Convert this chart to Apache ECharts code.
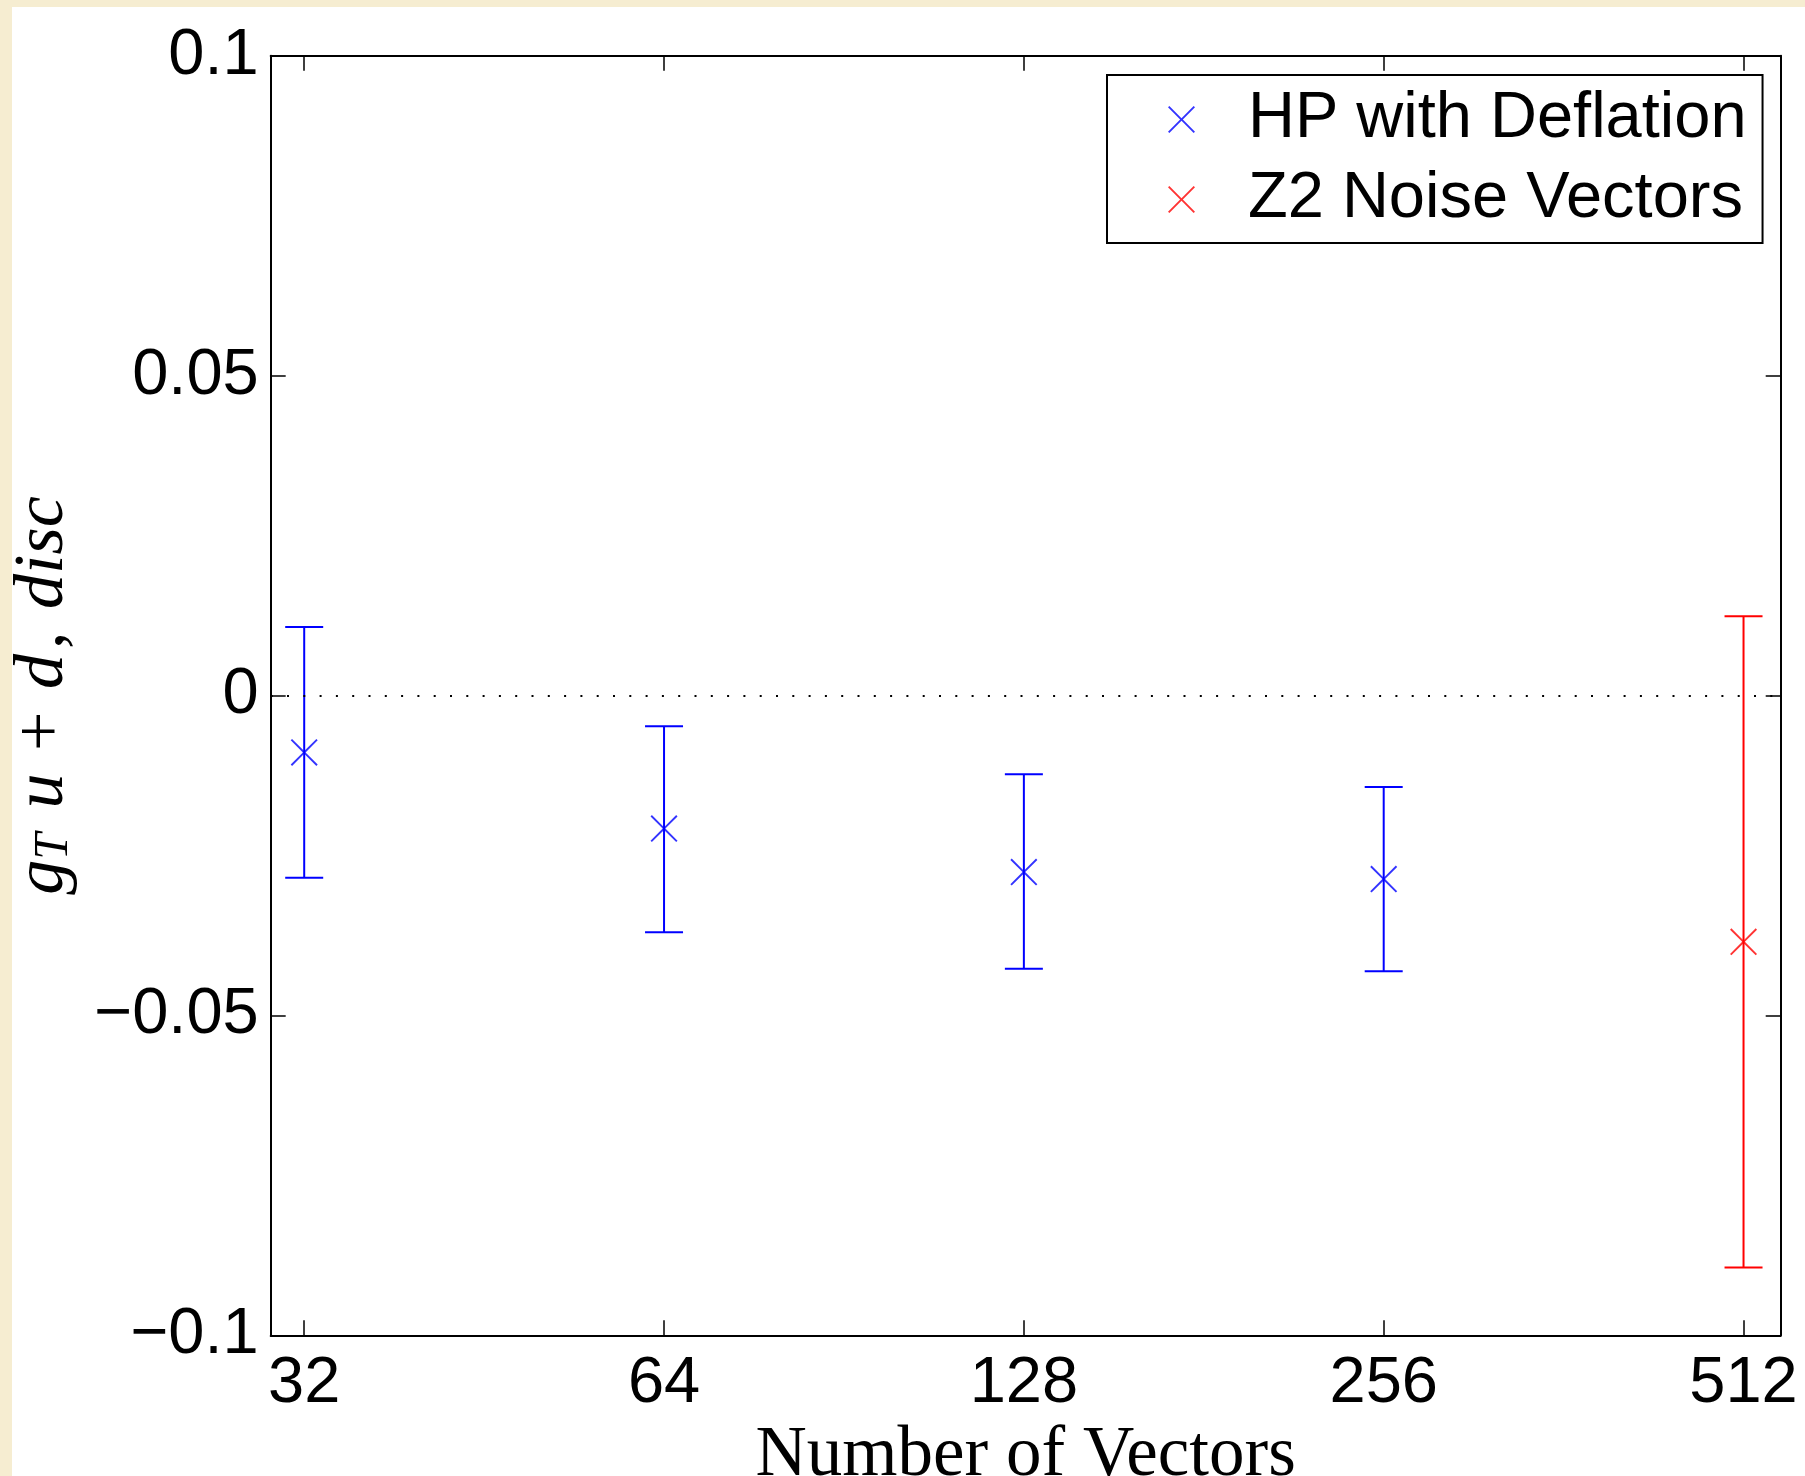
<!DOCTYPE html>
<html>
<head>
<meta charset="utf-8">
<script src="https://cdn.jsdelivr.net/npm/echarts@6/dist/echarts.min.js"></script>
<style>
  html, body { margin: 0; padding: 0; width: 1805px; height: 1476px; background: #f6edd1; overflow: hidden; }
  #chart { position: absolute; left: 12px; top: 7px; width: 1793px; height: 1469px; background: #ffffff; }
</style>
</head>
<body>
<div id="chart"></div>
<script>
// ---- data ----
const vectorCounts = [32, 64, 128, 256, 512];          // x tick labels
const yTicks = [-0.1, -0.05, 0, 0.05, 0.1];

const hpVectors = [32, 64, 128, 256];
const hpMean    = [-0.0089, -0.0208, -0.0276, -0.0287];
const hpLow     = [-0.0285, -0.0370, -0.0427, -0.0431];
const hpHigh    = [ 0.0107, -0.0048, -0.0123, -0.0143];

const z2Vectors = [512];
const z2Mean    = [-0.0385];
const z2Low     = [-0.0894];
const z2High    = [ 0.0124];

const xLimits = [30, 550];

// ---- build ----
const X_PATH = 'path://M0,5 L5,0 L50,45 L95,0 L100,5 L55,50 L100,95 L95,100 L50,55 L5,100 L0,95 L45,50 Z';
const BLUE = '#0000ff', RED = '#ff0000';
const lg = v => Math.log2(v);

const hpPoints = hpVectors.map((v, i) => [lg(v), hpMean[i]]);
const hpBars   = hpVectors.map((v, i) => [lg(v), hpLow[i], hpHigh[i]]);
const z2Points = z2Vectors.map((v, i) => [lg(v), z2Mean[i]]);
const z2Bars   = z2Vectors.map((v, i) => [lg(v), z2Low[i], z2High[i]]);
const xTickVals = vectorCounts.map(lg);

function errRender(color) {
  return function (params, api) {
    const x = api.value(0);
    const lo = api.coord([x, api.value(1)]);
    const hi = api.coord([x, api.value(2)]);
    const cap = 19;
    const st = { stroke: color, lineWidth: 2, fill: null };
    return {
      type: 'group',
      children: [
        { type: 'line', shape: { x1: hi[0], y1: hi[1], x2: lo[0], y2: lo[1] }, style: st },
        { type: 'line', shape: { x1: hi[0] - cap, y1: hi[1], x2: hi[0] + cap, y2: hi[1] }, style: st },
        { type: 'line', shape: { x1: lo[0] - cap, y1: lo[1], x2: lo[0] + cap, y2: lo[1] }, style: st }
      ]
    };
  };
}

const tickFont = { fontFamily: 'Liberation Sans', fontSize: 65, color: '#000' };
const axisLine = { show: true, onZero: false, lineStyle: { color: '#000', width: 2 } };
const tickStyle = { show: true, inside: true, length: 15, lineStyle: { color: '#000', width: 1.5 } };

const xBase = {
  type: 'value',
  min: lg(xLimits[0]),
  max: lg(xLimits[1]),
  axisLine: axisLine,
  splitLine: { show: false },
  minorTick: { show: false }
};

const chart = echarts.init(document.getElementById('chart'), null, { renderer: 'canvas' });
chart.setOption({
  animation: false,
  backgroundColor: '#ffffff',
  grid: { left: 258.7, top: 48.7, right: 24.3, bottom: 140.7, containLabel: false, outerBoundsMode: 'none' },
  legend: {
    orient: 'vertical',
    left: 1095, top: 68,
    padding: [12, 16, 11, 61],
    itemGap: 15,
    itemWidth: 27, itemHeight: 27,
    backgroundColor: '#fff',
    borderColor: '#000', borderWidth: 2, borderRadius: 0,
    selectedMode: false,
    textStyle: { fontFamily: 'Liberation Sans', fontSize: 65, color: '#000', lineHeight: 63, padding: [0, 0, 0, 48] },
    data: [
      { name: 'HP with Deflation', icon: X_PATH },
      { name: 'Z2 Noise Vectors', icon: X_PATH }
    ]
  },
  xAxis: [
    Object.assign({}, xBase, {
      position: 'bottom',
      axisTick: Object.assign({}, tickStyle, { customValues: xTickVals }),
      axisLabel: Object.assign({}, tickFont, {
        customValues: xTickVals, margin: 16,
        formatter: v => String(Math.round(Math.pow(2, v)))
      }),
      name: 'Number of Vectors',
      nameLocation: 'middle',
      nameGap: 67,
      nameTextStyle: { fontFamily: 'Liberation Serif', fontSize: 71, color: '#000' }
    }),
    Object.assign({}, xBase, {
      position: 'top',
      axisTick: Object.assign({}, tickStyle, { customValues: xTickVals }),
      axisLabel: { show: false }
    })
  ],
  yAxis: [
    {
      type: 'value', position: 'left',
      min: yTicks[0], max: yTicks[yTicks.length - 1], interval: 0.05,
      axisLine: axisLine,
      axisTick: tickStyle,
      splitLine: { show: false },
      axisLabel: Object.assign({}, tickFont, {
        margin: 12,
        formatter: v => (Math.abs(v) < 1e-9 ? '0' : (v < 0 ? '\u2212' + String(+(-v).toFixed(2)) : String(+v.toFixed(2))))
      }),
      name: '{i|g}{sub|T}{i| u }{r|+}{i| d}{r|, }{i|disc}',
      nameLocation: 'middle',
      nameRotate: 90,
      nameGap: 192,
      nameTextStyle: {
        color: '#000',
        rich: {
          i: { fontFamily: 'Liberation Serif', fontStyle: 'italic', fontSize: 70, color: '#000' },
          r: { fontFamily: 'Liberation Serif', fontSize: 70, color: '#000', padding: [0, 5, 0, 5] },
          sub: { fontFamily: 'Liberation Serif', fontStyle: 'italic', fontSize: 48, color: '#000', verticalAlign: 'bottom', lineHeight: 44, padding: [0, 7, 0, 0] }
        }
      }
    },
    {
      type: 'value', position: 'right',
      min: yTicks[0], max: yTicks[yTicks.length - 1], interval: 0.05,
      axisLine: axisLine,
      axisTick: tickStyle,
      axisLabel: { show: false },
      splitLine: { show: false }
    }
  ],
  series: [
    {
      name: 'hpErr', type: 'custom', xAxisIndex: 0, yAxisIndex: 0,
      renderItem: errRender(BLUE), encode: { x: 0, y: [1, 2] }, data: hpBars, silent: true, z: 2
    },
    {
      name: 'z2Err', type: 'custom', xAxisIndex: 0, yAxisIndex: 0,
      renderItem: errRender(RED), encode: { x: 0, y: [1, 2] }, data: z2Bars, silent: true, z: 2
    },
    {
      name: 'HP with Deflation', type: 'scatter', xAxisIndex: 0, yAxisIndex: 0,
      symbol: X_PATH, symbolSize: 27, itemStyle: { color: BLUE }, data: hpPoints, z: 3,
      markLine: {
        silent: true, symbol: 'none', label: { show: false },
        lineStyle: { color: '#000', type: [2, 14.3], width: 2 },
        data: [{ yAxis: 0 }]
      }
    },
    {
      name: 'Z2 Noise Vectors', type: 'scatter', xAxisIndex: 0, yAxisIndex: 0,
      symbol: X_PATH, symbolSize: 27, itemStyle: { color: RED }, data: z2Points, z: 3
    }
  ]
});
</script>
</body>
</html>
